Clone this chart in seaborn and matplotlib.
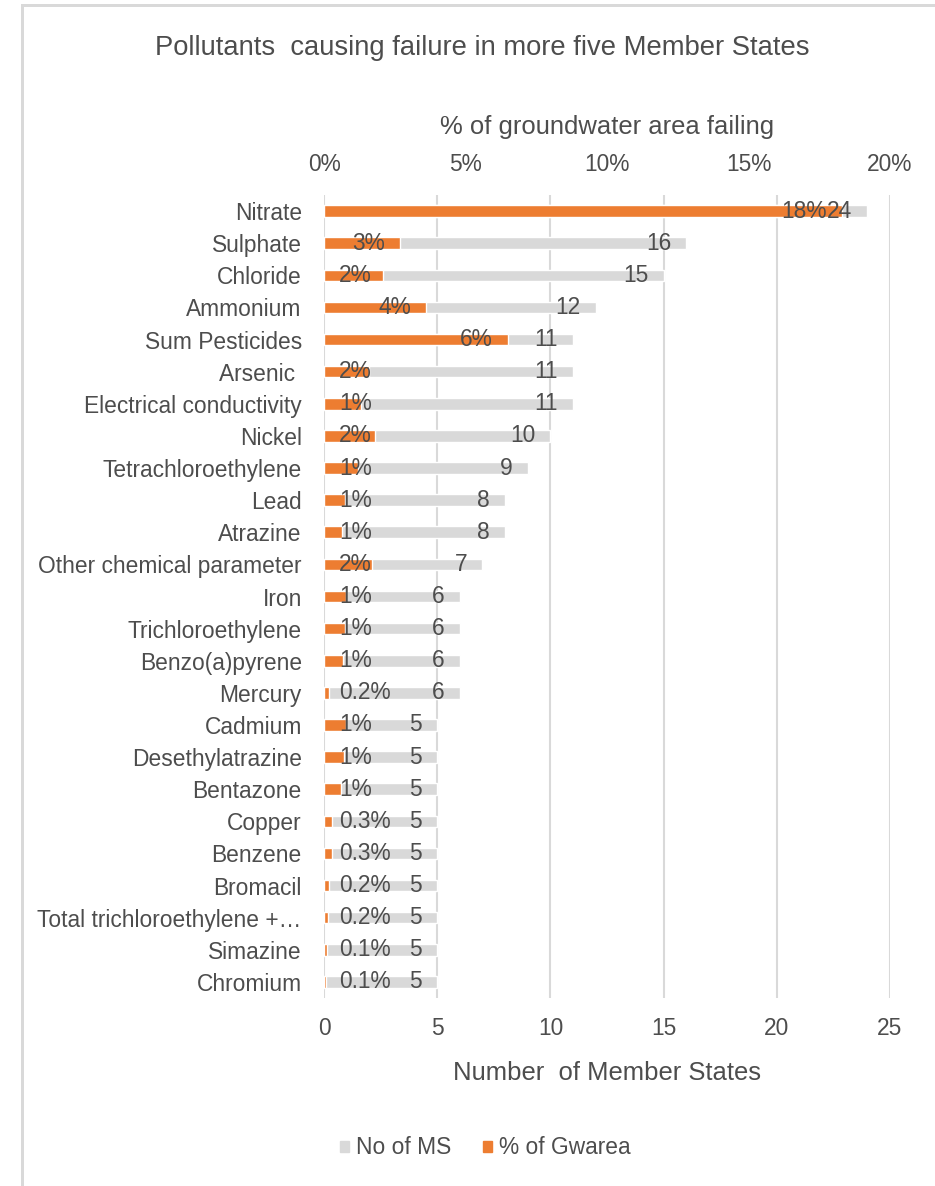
import matplotlib
matplotlib.use("Agg")
import matplotlib.pyplot as plt
import seaborn as sns
import pandas as pd
from matplotlib.patches import Patch, Rectangle
from matplotlib import font_manager

categories = ["Nitrate", "Sulphate", "Chloride", "Ammonium", "Sum Pesticides", "Arsenic ",
              "Electrical conductivity", "Nickel", "Tetrachloroethylene", "Lead", "Atrazine",
              "Other chemical parameter", "Iron", "Trichloroethylene", "Benzo(a)pyrene", "Mercury",
              "Cadmium", "Desethylatrazine", "Bentazone", "Copper", "Benzene", "Bromacil",
              "Total trichloroethylene +…", "Simazine", "Chromium"]
no_of_ms = [24, 16, 15, 12, 11, 11, 11, 10, 9, 8, 8, 7, 6, 6, 6, 6, 5, 5, 5, 5, 5, 5, 5, 5, 5]
pct_gwarea = [0.183, 0.027, 0.021, 0.036, 0.065, 0.016, 0.013, 0.018, 0.012, 0.0075, 0.0063,
              0.017, 0.0079, 0.0073, 0.0067, 0.0019, 0.0077, 0.0069, 0.006, 0.003, 0.0028,
              0.0018, 0.0015, 0.0009, 0.0007]
pct_labels = ["18%", "3%", "2%", "4%", "6%", "2%", "1%", "2%", "1%", "1%", "1%", "2%", "1%",
              "1%", "1%", "0.2%", "1%", "1%", "1%", "0.3%", "0.3%", "0.2%", "0.2%", "0.1%", "0.1%"]
bottom_ticks = [0, 5, 10, 15, 20, 25]
top_ticks = [0, 0.05, 0.10, 0.15, 0.20]
top_ticklabels = ["0%", "5%", "10%", "15%", "20%"]

GREY = "#D9D9D9"
ORANGE = "#ED7D31"
TXT = "#4D4D4D"

names = {f.name for f in font_manager.fontManager.ttflist}
narrow = "Liberation Sans Narrow" in names
sns.set_theme(style="white")
if narrow:
    plt.rcParams["font.family"] = ["Liberation Sans Narrow", "Liberation Sans", "DejaVu Sans"]
    k = 1.0
else:
    plt.rcParams["font.family"] = ["Liberation Sans", "DejaVu Sans"]
    k = 0.82

FS = 20 * k        # labels, ticks, data labels
FS_AX = 22.5 * k   # axis titles
FS_T = 24 * k      # chart title

W, H = 935, 1186
fig = plt.figure(figsize=(W / 100, H / 100), dpi=100)
ax = fig.add_axes([324 / W, 1 - 998 / H, (890 - 324) / W, (998 - 195) / H])

df = pd.DataFrame({"cat": categories, "ms": no_of_ms, "pct": pct_gwarea})

sns.barplot(data=df, x="ms", y="cat", orient="h", color=GREY, width=0.36,
            saturation=1, ax=ax, zorder=2)
ax.set_xlim(0, 25)
ax.set_xticks(bottom_ticks)
ax.grid(axis="x", color=GREY, lw=1.5, zorder=0)
ax.grid(axis="y", visible=False)
ax.set_axisbelow(True)
for s in ax.spines.values():
    s.set_visible(False)
ax.tick_params(axis="x", length=0, pad=14, labelsize=FS, labelcolor=TXT)
ax.tick_params(axis="y", length=0, pad=16, labelsize=FS, labelcolor=TXT)
ax.set_xlabel("")
ax.set_ylabel("")

ax2 = ax.twiny()
sns.barplot(data=df, x="pct", y="cat", orient="h", color=ORANGE, width=0.36,
            saturation=1, ax=ax2, zorder=3)
ax2.set_xlim(0, 0.2)
ax2.set_xticks(top_ticks)
ax2.set_xticklabels(top_ticklabels)
ax2.tick_params(axis="x", length=0, pad=14, labelsize=FS, labelcolor=TXT)
for s in ax2.spines.values():
    s.set_visible(False)
ax2.set_xlabel("")
ax2.set_ylabel("")
ax2.grid(False)
ax.set_ylim(len(categories) - 0.5, -0.5)

px = 72 / 100
fig.canvas.draw()
renderer = fig.canvas.get_renderer()

# orange labels: inside end, or just right of the base when the bar is too short
for i, (v, lab) in enumerate(zip(pct_gwarea, pct_labels)):
    t = ax2.annotate(lab, xy=(0, i), xytext=(15 * px, 0), textcoords="offset points",
                     ha="left", va="center", fontsize=FS, color=TXT, zorder=6)
    bb = t.get_window_extent(renderer)
    end_px = ax2.transData.transform((v, i))[0]
    if end_px - 15 > bb.x1:
        t.remove()
        ax2.annotate(lab, xy=(v, i), xytext=(-15 * px, 0), textcoords="offset points",
                     ha="right", va="center", fontsize=FS, color=TXT, zorder=6)

# grey labels: inside end, drawn on top of everything
for i, v in enumerate(no_of_ms):
    ax2.annotate(str(v), xy=(v, i), xycoords=ax.transData, xytext=(-15 * px, 0),
                 textcoords="offset points", ha="right", va="center", fontsize=FS,
                 color=TXT, zorder=7)

fig.text(482 / W, 1 - 48 / H, "Pollutants  causing failure in more five Member States",
         ha="center", va="center", fontsize=FS_T, color=TXT)
fig.text(607 / W, 1 - 127 / H, "% of groundwater area failing",
         ha="center", va="center", fontsize=FS_AX, color=TXT)
fig.text(607 / W, 1 - 1073 / H, "Number  of Member States",
         ha="center", va="center", fontsize=FS_AX, color=TXT)

handles = [Patch(color=GREY, label="No of MS"), Patch(color=ORANGE, label="% of Gwarea")]
fig.legend(handles=handles, loc="center", bbox_to_anchor=(485 / W, 1 - 1148 / H), ncol=2,
           frameon=False, fontsize=FS, labelcolor=TXT, handlelength=0.4, handleheight=0.4,
           handletextpad=0.3, columnspacing=1.4)

fig.add_artist(Rectangle((21.5 / W, -0.1), 1.2, 1.1 - 4.5 / H, transform=fig.transFigure,
                         fill=False, edgecolor=GREY, lw=3 * px))

fig.savefig("out.png", dpi=100)
